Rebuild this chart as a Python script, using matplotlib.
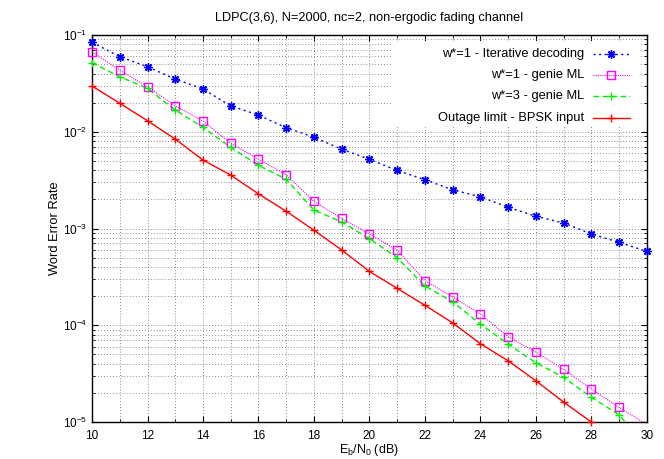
import matplotlib
matplotlib.use("Agg")
import matplotlib.pyplot as plt
from matplotlib.lines import Line2D
from matplotlib.patches import Rectangle
from matplotlib.ticker import LogLocator, MultipleLocator, NullFormatter
import numpy as np

plt.rcParams['font.family'] = ['Liberation Sans', 'DejaVu Sans']
plt.rcParams['mathtext.fontset'] = 'custom'
plt.rcParams['mathtext.rm'] = 'Liberation Sans'
plt.rcParams['mathtext.it'] = 'Liberation Sans'
plt.rcParams['mathtext.default'] = 'regular'

# ---- data ----
snr = list(range(10, 31))
iterative = [0.084, 0.0597, 0.047, 0.035, 0.0277, 0.0185, 0.0149, 0.011, 0.0088, 0.0066,
             0.00519, 0.00398, 0.0032, 0.00251, 0.00213, 0.00166, 0.00134, 0.00114,
             0.00088, 0.00072, 0.00058]
genie_w1 = [0.067, 0.0432, 0.0292, 0.0186, 0.0129, 0.0076, 0.0052, 0.0036, 0.00191, 0.00127,
            0.00088, 0.000596, 0.00029, 0.000196, 0.000131, 7.6e-5, 5.3e-5, 3.5e-5,
            2.2e-5, 1.42e-5, 9.4e-6]
genie_w3 = [0.0518, 0.037, 0.0281, 0.0168, 0.0111, 0.0069, 0.0045, 0.00323, 0.00155, 0.00117,
            0.000785, 0.0005, 0.000255, 0.000175, 0.000103, 6.4e-5, 4.1e-5, 2.9e-5,
            1.8e-5, 1.19e-5, 5.5e-6]
snr_out = list(range(10, 29))
outage = [0.0297, 0.0197, 0.013, 0.0084, 0.0051, 0.00357, 0.00228, 0.00151, 0.00096, 0.0006,
          0.00036, 0.000241, 0.000161, 0.000106, 6.45e-5, 4.3e-5, 2.67e-5, 1.61e-5, 1.0e-5]

labels = ["w*=1 - Iterative decoding", "w*=1 - genie ML", "w*=3 - genie ML",
          "Outage limit - BPSK input"]

fig = plt.figure(figsize=(6.64, 4.59), dpi=100)
ax = fig.add_axes([0.1386, 0.0806, 0.8354, 0.8431])

ymin, ymax = 1e-5, 1e-1
xmin, xmax = 10, 30

star = (8, 2, 0)
series = [
    (snr, iterative, dict(color='#0000ff', ls=(0, (1.5, 2.5)), lw=1.0), dict(marker=star, ms=6, mew=1.0, mfc='none')),
    (snr, genie_w1, dict(color='#ff00ff', ls=(0, (1, 1)), lw=0.8), dict(marker='s', ms=5.5, mew=1.0, mfc='none')),
    (snr, genie_w3, dict(color='#00ee00', ls=(0, (4, 2.5)), lw=1.0), dict(marker='+', ms=6, mew=1.0)),
    (snr_out, outage, dict(color='#ff0000', ls='-', lw=1.0), dict(marker='+', ms=6, mew=1.0)),
]

for xs, ys, lstyle, mstyle in series:
    xs = np.array(xs); ys = np.array(ys)
    ax.plot(xs, ys, color=lstyle['color'], ls=lstyle['ls'], lw=lstyle['lw'], zorder=3)
    m = (ys >= ymin) & (ys <= ymax)
    ax.plot(xs[m], ys[m], ls='none', color=lstyle['color'], clip_on=False, zorder=4, **mstyle)

ax.set_yscale('log')
ax.set_xlim(xmin, xmax)
ax.set_ylim(ymin, ymax)
ax.xaxis.set_major_locator(MultipleLocator(2))
ax.xaxis.set_minor_locator(MultipleLocator(1))
ax.yaxis.set_major_locator(LogLocator(base=10, numticks=10))
ax.yaxis.set_minor_locator(LogLocator(base=10, subs=np.arange(2, 10), numticks=20))
ax.yaxis.set_minor_formatter(NullFormatter())

ax.grid(True, which='both', color='0.4', ls=(0, (1, 2.5)), lw=0.6)
ax.set_axisbelow(True)
ax.tick_params(which='both', direction='in', top=True, right=True, labelsize=8.5)
ax.tick_params(which='major', length=4, width=0.8)
ax.tick_params(which='minor', length=2, width=0.6)
ax.tick_params(axis='x', pad=6)
for s in ax.spines.values():
    s.set_linewidth(1.0)

ax.set_title("LDPC(3,6), N=2000, nc=2, non-ergodic fading channel", fontsize=9.2, pad=10)
ax.set_xlabel(r"$E_b/N_0$ (dB)", fontsize=9, labelpad=0)
ax.set_ylabel("Word Error Rate", fontsize=9.3, labelpad=1.5)

# ---- gnuplot-style key: opaque box, right-aligned text, sample on the right ----
ax.add_patch(Rectangle((0.542, 0.765), 0.444, 0.2195, transform=ax.transAxes,
                       facecolor='white', edgecolor='none', zorder=2))
row_y = [0.951, 0.897, 0.843, 0.786]
for (xs, ys, lstyle, mstyle), lab, yy in zip(series, labels, row_y):
    ax.text(0.888, yy, lab, transform=ax.transAxes, ha='right', va='center',
            fontsize=9.3, zorder=5)
    ax.add_line(Line2D([0.903, 0.969], [yy, yy], transform=ax.transAxes,
                       color=lstyle['color'], ls=lstyle['ls'], lw=lstyle['lw'], zorder=5))
    ax.add_line(Line2D([0.936], [yy], transform=ax.transAxes, ls='none',
                       color=lstyle['color'], zorder=5, **mstyle))

fig.savefig("out.png", dpi=100)
